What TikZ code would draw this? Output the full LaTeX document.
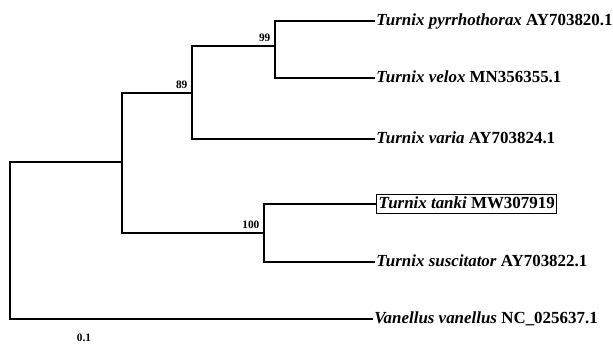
\documentclass[tikz,border=0pt]{standalone}
\usepackage{fontspec}
\setmainfont{Liberation Serif}
\begin{document}
\begin{tikzpicture}[x=0.75pt,y=-0.75pt,
  branch/.style={line width=1.1pt,line cap=rect},
  taxon/.style={anchor=west,inner sep=1.5pt,font=\fontsize{12.7}{15}\selectfont\bfseries,
    text height=9pt,text depth=2.5pt},
  boxed/.style={draw,line width=0.8pt,inner sep=1.5pt},
  support/.style={font=\fontsize{8.5}{10}\selectfont\bfseries,inner sep=1pt}]
\useasboundingbox (0,0) rectangle (613,343);

% internal nodes of the tree
\coordinate (root) at (10,162);
\coordinate (rootlow) at (10,319);
\coordinate (nA) at (122,162);
\coordinate (nAtop) at (122,93);
\coordinate (nAbot) at (122,233);
\coordinate (nB) at (192,93);
\coordinate (nBtop) at (192,46);
\coordinate (nBbot) at (192,139);
\coordinate (nC) at (275,46);
\coordinate (nCtop) at (275,21);
\coordinate (nCbot) at (275,78);
\coordinate (nD) at (264,233);
\coordinate (nDtop) at (264,204);
\coordinate (nDbot) at (264,262);

% taxa
\node[taxon] (pyr) at (374,21) {\textit{Turnix pyrrhothorax} AY703820.1};
\node[taxon] (vel) at (374,78) {\textit{Turnix velox} MN356355.1};
\node[taxon] (var) at (374,139) {\textit{Turnix varia} AY703824.1};
\node[taxon,boxed] (tan) at (376,204) {\textit{Turnix tanki} MW307919};
\node[taxon] (sus) at (374,262) {\textit{Turnix suscitator} AY703822.1};
\node[taxon] (van) at (372,319) {\textit{Vanellus vanellus} NC\_025637.1};

% branches
\draw[branch] (nCtop) -- (nCbot);
\draw[branch] (nCtop) -- (pyr.west);
\draw[branch] (nCbot) -- (vel.west);
\draw[branch] (nBtop) -- (nBbot);
\draw[branch] (nBtop) -- (nC);
\draw[branch] (nBbot) -- (var.west);
\draw[branch] (nAtop) -- (nAbot);
\draw[branch] (nAtop) -- (nB);
\draw[branch] (nAbot) -- (nD);
\draw[branch] (nDtop) -- (nDbot);
\draw[branch] (nDtop) -- (tan.west);
\draw[branch] (nDbot) -- (sus.west);
\draw[branch] (root) -- (rootlow);
\draw[branch] (root) -- (nA);
\draw[branch] (rootlow) -- (van.west);

% bootstrap support
\node[support,anchor=south east] (b99) at (272,43) {99};
\node[support,anchor=south east] (b89) at (189,90) {89};
\node[support,anchor=south east] (b100) at (261,230) {100};

% scale
\node[support] (scale) at (84,338) {0.1};
\end{tikzpicture}
\end{document}
